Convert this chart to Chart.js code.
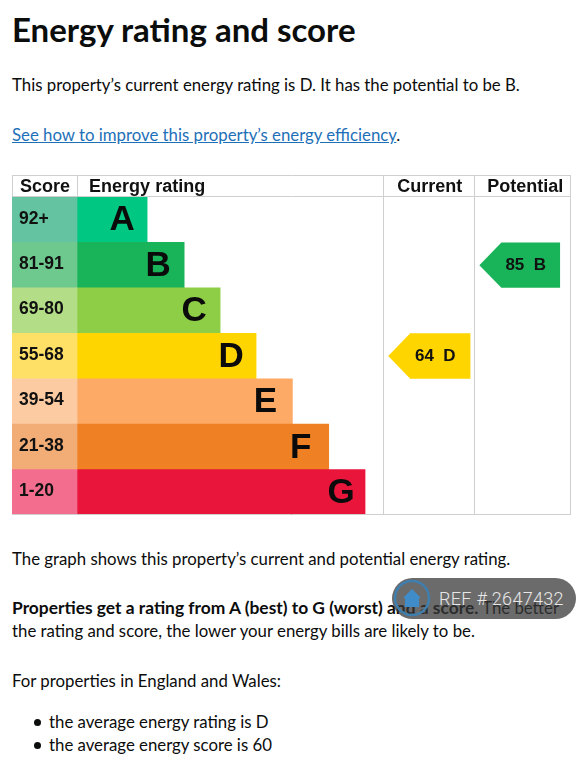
<!DOCTYPE html>
<html>
<head>
<meta charset="utf-8">
<script src="https://cdn.jsdelivr.net/npm/chart.js@4"></script>
<style>
  html,body{margin:0;padding:0;background:#fff}
  body{width:587px;height:768px;position:relative;overflow:hidden;font-family:Lato,sans-serif;color:#0b0c0c}
  .t{position:absolute;left:12px;white-space:nowrap;font-size:16.8px;line-height:24px}
  .t b{font-size:17.4px}
  h1{position:absolute;left:12px;top:9px;margin:0;font-size:33px;line-height:40px;font-weight:700;white-space:nowrap}
  a{color:#1d70b8;text-decoration:underline}
  #wrap{position:absolute;left:12px;top:175px;width:559px;height:340px}
  .dot{position:absolute;left:34px;width:7px;height:7px;border-radius:50%;background:#0b0c0c}
  #ref{position:absolute;left:392px;top:578px;width:184px;height:41px;border-radius:21px;background:rgba(55,55,55,.74)}
  #ref span{position:absolute;left:47px;top:9px;font:300 18px/24px Roboto,sans-serif;color:#e8e8e8;letter-spacing:.3px;white-space:nowrap}
  #ref svg{position:absolute;left:0;top:0}
</style>
</head>
<body>
<h1>Energy rating and score</h1>
<div class="t" style="top:73px">This property’s current energy rating is D. It has the potential to be B.</div>
<div class="t" style="top:123px"><a>See how to improve this property’s energy efficiency</a>.</div>

<div id="wrap"><canvas id="epcChart" width="559" height="340"></canvas></div>

<div class="t" style="top:547px">The graph shows this property’s current and potential energy rating.</div>
<div class="t" style="top:596px"><b>Properties get a rating from A (best) to G (worst) and a score.</b> The better</div>
<div class="t" style="top:619px">the rating and score, the lower your energy bills are likely to be.</div>
<div class="t" style="top:669px">For properties in England and Wales:</div>
<div class="dot" style="top:719px"></div>
<div class="t" style="top:710px;left:49px">the average energy rating is D</div>
<div class="dot" style="top:742px"></div>
<div class="t" style="top:733px;left:49px">the average energy score is 60</div>

<div id="ref">
  <svg width="44" height="41" viewBox="0 0 44 41">
    <circle cx="20" cy="20" r="17" fill="none" stroke="#3f7fae" stroke-width="2.5"/>
    <path d="M20 11 L29 20 L27 20 L27 29 L13 29 L13 20 L11 20 Z" fill="#3f8cc8"/>
  </svg>
  <span>REF # 2647432</span>
</div>

<script>
// table data
const scoreBands = ['92+', '81-91', '69-80', '55-68', '39-54', '21-38', '1-20'];
const ratingLetters = ['A', 'B', 'C', 'D', 'E', 'F', 'G'];
const bandLengths = [1.93, 2.95, 3.94, 4.93, 5.93, 6.93, 7.93];
const bandColors = ['#00c781', '#19b459', '#8dce46', '#ffd500', '#fcaa65', '#ef8023', '#e9153b'];
const scoreColors = ['#64c3a1', '#6ec98f', '#b4dd87', '#ffe066', '#fdcba2', '#f2ad77', '#f36e8e'];

const headerLabels = ['Score', 'Energy rating', 'Current', 'Potential'];
const headerTicks = [-0.88, 1.93, 9.71, 12.34];

const scoreColumnStart = -1.79;
const axisEnd = 13.6;
const columnEdges = [0, 8.43, 10.94, 13.56];

const currentRating = { score: 64, letter: 'D', color: '#ffd500' };
const potentialRating = { score: 85, letter: 'B', color: '#19b459' };

const FONT = '"Liberation Sans", Arial, sans-serif';
// how far each big letter sits back from the end of its bar
const letterInsets = [25, 26, 26, 25, 27, 28, 24];

// table rules, letters in the bars and the two arrows
const epcTable = {
  id: 'epcTable',
  afterDatasetsDraw(chart) {
    const { ctx, scales: { x }, chartArea } = chart;
    const left = x.getPixelForValue(scoreColumnStart);
    const right = Math.round(x.getPixelForValue(columnEdges[3])) + 1;
    const top = chartArea.top;
    const bottom = chartArea.bottom;

    ctx.save();
    ctx.strokeStyle = '#cfcfcf';
    ctx.lineWidth = 1;
    ctx.beginPath();
    ctx.moveTo(left, 0.5); ctx.lineTo(right, 0.5);
    ctx.moveTo(left, top - 0.5); ctx.lineTo(right, top - 0.5);
    ctx.moveTo(left, bottom - 0.5); ctx.lineTo(right, bottom - 0.5);
    ctx.moveTo(left + 0.5, 0); ctx.lineTo(left + 0.5, top);
    ctx.moveTo(x.getPixelForValue(0) + 0.5, 0); ctx.lineTo(x.getPixelForValue(0) + 0.5, top);
    [1, 2, 3].forEach(i => {
      const px = Math.round(x.getPixelForValue(columnEdges[i])) + 0.5;
      ctx.moveTo(px, 0); ctx.lineTo(px, bottom);
    });
    ctx.stroke();

    const meta = chart.getDatasetMeta(1);
    ctx.fillStyle = '#0b0b0b';
    ctx.font = 'bold 35px ' + FONT;
    ctx.textAlign = 'center';
    ctx.textBaseline = 'middle';
    meta.data.forEach((bar, i) => {
      ctx.fillText(ratingLetters[i], bar.x - letterInsets[i], bar.y + 1);
    });

    drawArrow(chart, currentRating, 1);
    drawArrow(chart, potentialRating, 2);
    ctx.restore();
  }
};

function drawArrow(chart, rating, col) {
  const { ctx, scales: { x, y } } = chart;
  const row = ratingLetters.indexOf(rating.letter);
  const mid = y.getPixelForValue(row);
  const half = (y.getPixelForValue(1) - y.getPixelForValue(0)) / 2;
  const tip = x.getPixelForValue(columnEdges[col]) + 5;
  const end = x.getPixelForValue(columnEdges[col + 1]) - (col === 1 ? 4 : 9.5);
  ctx.fillStyle = rating.color;
  ctx.beginPath();
  ctx.moveTo(tip, mid);
  ctx.lineTo(tip + 22, mid - half);
  ctx.lineTo(end, mid - half);
  ctx.lineTo(end, mid + half);
  ctx.lineTo(tip + 22, mid + half);
  ctx.closePath();
  ctx.fill();
  ctx.fillStyle = '#111';
  ctx.font = 'bold 17px ' + FONT;
  ctx.textAlign = 'center';
  ctx.textBaseline = 'middle';
  ctx.fillText(rating.score + '  ' + rating.letter, (tip + 22 + end) / 2 - 5, mid + 0.5);
}

new Chart(document.getElementById('epcChart'), {
  type: 'bar',
  data: {
    labels: scoreBands,
    datasets: [
      {
        label: 'Score',
        data: scoreBands.map(() => [scoreColumnStart, 0]),
        backgroundColor: scoreColors,
        borderWidth: 0
      },
      {
        label: 'Energy rating',
        data: bandLengths,
        backgroundColor: bandColors,
        borderWidth: 0
      }
    ]
  },
  options: {
    indexAxis: 'y',
    responsive: false,
    animation: false,
    layout: { padding: 0 },
    plugins: { legend: { display: false }, tooltip: { enabled: false } },
    datasets: { bar: { grouped: false, barPercentage: 1, categoryPercentage: 1 } },
    scales: {
      x: {
        position: 'top',
        min: scoreColumnStart,
        max: axisEnd,
        grid: { display: false, drawTicks: false },
        border: { display: false },
        afterBuildTicks: axis => { axis.ticks = headerTicks.map(v => ({ value: v })); },
        afterFit: axis => { axis.height = 22; axis.paddingLeft = 0; axis.paddingRight = 0; },
        ticks: {
          autoSkip: false,
          maxRotation: 0,
          padding: -1,
          color: '#111',
          font: { family: FONT, size: 18, weight: 'bold' },
          callback: (v, i) => headerLabels[i]
        }
      },
      y: {
        grid: { display: false, drawTicks: false },
        border: { display: false },
        afterFit: axis => { axis.width = 0; axis.paddingTop = 0; axis.paddingBottom = 0; },
        ticks: {
          mirror: true,
          z: 1,
          padding: 7,
          labelOffset: -1,
          color: '#111',
          font: { family: FONT, size: 17.5, weight: 'bold' }
        }
      }
    }
  },
  plugins: [epcTable]
});
</script>
</body>
</html>
